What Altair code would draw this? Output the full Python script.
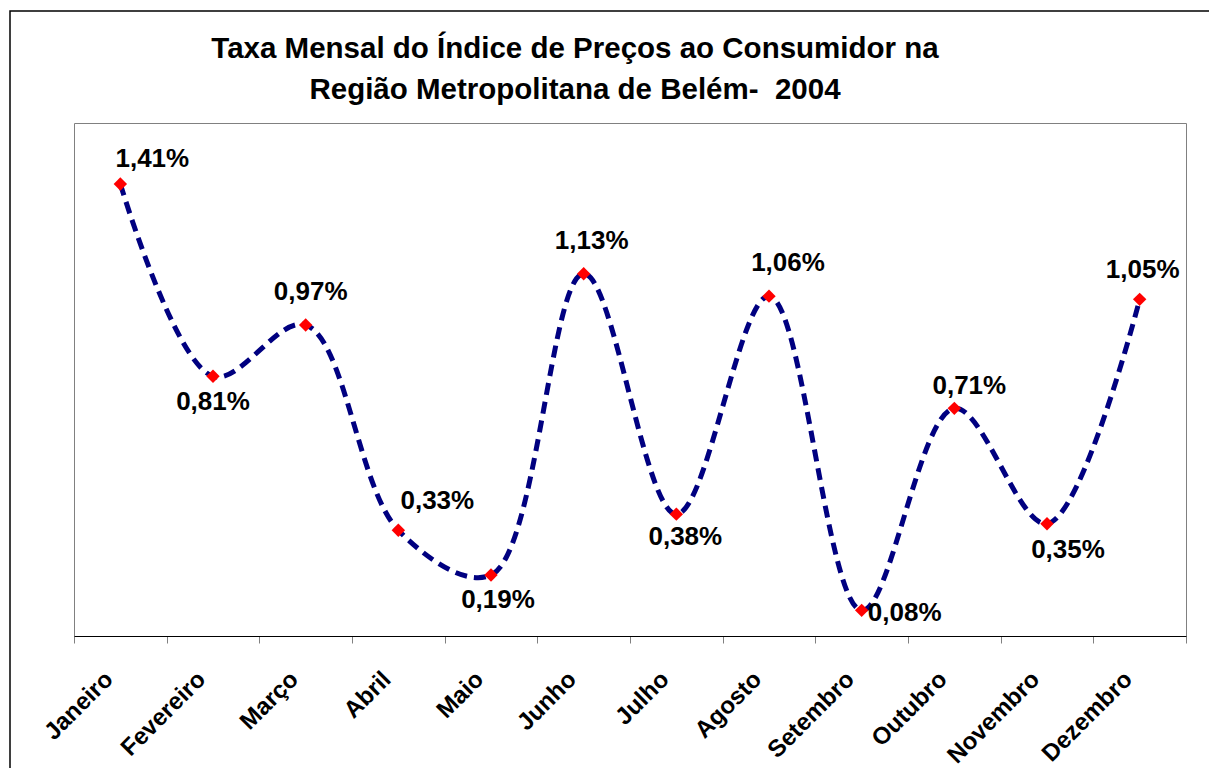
import altair as alt
import pandas as pd

months = ["Janeiro", "Fevereiro", "Março", "Abril", "Maio", "Junho",
          "Julho", "Agosto", "Setembro", "Outubro", "Novembro", "Dezembro"]
rates = [1.41, 0.81, 0.97, 0.33, 0.19, 1.13, 0.38, 1.06, 0.08, 0.71, 0.35, 1.05]
labels = ["1,41%", "0,81%", "0,97%", "0,33%", "0,19%", "1,13%",
          "0,38%", "1,06%", "0,08%", "0,71%", "0,35%", "1,05%"]
# label offsets (pixels) relative to each marker, as placed in the original
label_dx = [32, 0, 5, 39, 7, 8, 9, 19, 43, 15, 21, 3]
label_dy = [-25, 26, -33, -29, 25, -33, 23, -33, 3, -22, 26, -29]
title_lines = ["Taxa Mensal do Índice de Preços ao Consumidor na",
               "Região Metropolitana de Belém-\u00a0 2004"]

df = pd.DataFrame({"mes": months, "taxa": rates, "rotulo": labels,
                   "ldx": label_dx, "ldy": label_dy})
tdf = pd.DataFrame({"titulo": ["\n".join(title_lines)]})

FONT = "Liberation Sans"
W, H = 1112, 513

x = alt.X("mes:N", sort=months,
          scale=alt.Scale(type="band", domain=months, paddingInner=0, paddingOuter=0),
          axis=alt.Axis(title=None, labelAngle=-45, labelFont=FONT, labelFontWeight="bold",
                        labelFontSize=24, labelColor="black", domainColor="black",
                        tickColor="#808080", tickSize=7, tickBand="extent",
                        labelPadding=24, labelOffset=-20, grid=False))
y = alt.Y("taxa:Q", scale=alt.Scale(domain=[0, 1.6], nice=False, zero=True), axis=None)

base = alt.Chart(df).encode(x=x, y=y)

border = alt.Chart(tdf).mark_rect(fill=None, stroke="black", strokeWidth=1.5).encode(
    x=alt.value(-64), x2=alt.value(1300), y=alt.value(-112), y2=alt.value(800))

title = alt.Chart(tdf).mark_text(font=FONT, fontSize=29.5, fontWeight="bold", color="black",
                                 lineBreak="\n", lineHeight=41, align="center",
                                 baseline="middle").encode(
    text="titulo:N", x=alt.value(501), y=alt.value(-74))

line = base.mark_line(interpolate="catmull-rom", color="#000080", strokeWidth=5,
                      strokeDash=[12, 7])
pts = base.mark_point(shape="diamond", filled=True, color="#FF0000", size=180, opacity=1)
txt = base.mark_text(font=FONT, fontWeight="bold", fontSize=26, color="black",
                     dx=alt.expr("datum.ldx"), dy=alt.expr("datum.ldy")).encode(
    text="rotulo:N")

chart = alt.layer(border, title, line, pts, txt).properties(
    width=W, height=H,
    autosize=alt.AutoSizeParams(type="none"),
    padding={"left": 66, "top": 115, "right": 23, "bottom": 132},
).configure_view(stroke="#808080", strokeWidth=1)

chart.save("out.html", embed_options={"renderer": "svg", "actions": False})
